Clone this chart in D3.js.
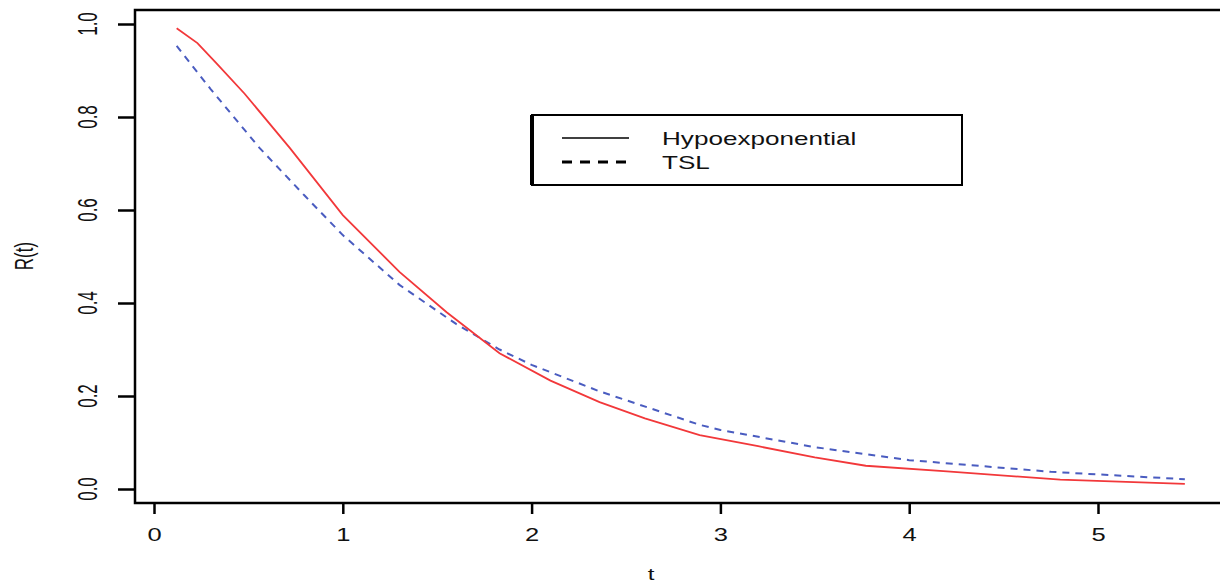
<!DOCTYPE html>
<html>
<head>
<meta charset="utf-8">
<script src="https://cdn.jsdelivr.net/npm/d3@7"></script>
<style>
  body { margin: 0; background: white; }
  text { font-family: "Liberation Sans", Arial, sans-serif; fill: #111; }
</style>
</head>
<body>
<div id="chart1"></div>
<script>
// data
const hypoT = [0.12, 0.23, 0.33, 0.48, 0.72, 1.0, 1.3, 1.55, 1.83, 2.1, 2.36, 2.6, 2.89, 3.2, 3.5, 3.77, 4.2, 4.8, 5.46];
const hypoR = [0.991, 0.959, 0.916, 0.85, 0.733, 0.589, 0.467, 0.38, 0.292, 0.233, 0.187, 0.152, 0.116, 0.092, 0.068, 0.05, 0.038, 0.02, 0.011];
const tslT = [0.12, 0.3, 0.56, 0.8, 1.0, 1.3, 1.6, 1.83, 2.0, 2.36, 2.89, 3.0, 3.5, 4.0, 4.75, 5.46];
const tslR = [0.953, 0.86, 0.733, 0.63, 0.546, 0.439, 0.355, 0.30, 0.267, 0.21, 0.138, 0.127, 0.09, 0.062, 0.037, 0.021];
const xTicks = [0, 1, 2, 3, 4, 5];
const yTicks = [0, 0.2, 0.4, 0.6, 0.8, 1.0];
const legendNames = ["Hypoexponential", "TSL"];

const width = 1220;
const height = 587;
const box = { left: 135, top: 10, right: 1224, bottom: 503 };
const sx = 1.42; // the picture is stretched sideways

const xScale = d3.scaleLinear().domain([0, 5]).range([154, 1098]);
const yScale = d3.scaleLinear().domain([0, 1]).range([489, 24]);

const svg = d3.select("#chart1")
    .append("svg")
    .attr("width", width)
    .attr("height", height);

// plot frame
svg.append("rect")
    .attr("x", box.left)
    .attr("y", box.top)
    .attr("width", box.right - box.left)
    .attr("height", box.bottom - box.top)
    .attr("fill", "none")
    .attr("stroke", "black")
    .attr("stroke-width", 2.5);

// x axis
const xAxis = svg.append("g")
    .attr("transform", `translate(0,${box.bottom})`)
    .call(d3.axisBottom(xScale).tickValues(xTicks).tickSize(11).tickFormat(d3.format("d")));
xAxis.select(".domain").remove();
xAxis.selectAll("line").attr("stroke", "black").attr("stroke-width", 2.5);
xAxis.selectAll("text")
    .attr("y", 0)
    .attr("dy", 0)
    .attr("font-size", "18px")
    .attr("transform", `translate(0,38) scale(${sx},1)`);

// y axis
const yAxis = svg.append("g")
    .attr("transform", `translate(${box.left},0)`)
    .call(d3.axisLeft(yScale).tickValues(yTicks).tickSize(17).tickFormat(d3.format(".1f")));
yAxis.select(".domain").remove();
yAxis.selectAll("line").attr("stroke", "black").attr("stroke-width", 2.5);
yAxis.selectAll("text").remove();

svg.append("g")
    .selectAll("text")
    .data(yTicks)
    .enter()
    .append("text")
    .attr("text-anchor", "middle")
    .attr("font-size", "17px")
    .attr("transform", d => `translate(97,${yScale(d)}) scale(1.6,1) rotate(-90)`)
    .text(d => d3.format(".1f")(d));

// axis titles
svg.append("text")
    .attr("text-anchor", "middle")
    .attr("font-size", "17px")
    .attr("transform", `translate(651,580) scale(${sx},1)`)
    .text("t");

svg.append("text")
    .attr("text-anchor", "middle")
    .attr("font-size", "17px")
    .attr("transform", `translate(33,256) scale(1.5,1) rotate(-90)`)
    .text("R(t)");

// curves
const line = d3.line()
    .x(d => xScale(d[0]))
    .y(d => yScale(d[1]))
    .curve(d3.curveLinear);

svg.append("path")
    .datum(d3.zip(tslT, tslR))
    .attr("fill", "none")
    .attr("stroke", "#4a5cc0")
    .attr("stroke-width", 2)
    .attr("stroke-dasharray", "7,6")
    .attr("d", line);

svg.append("path")
    .datum(d3.zip(hypoT, hypoR))
    .attr("fill", "none")
    .attr("stroke", "#f2383a")
    .attr("stroke-width", 1.8)
    .attr("d", line);

// legend
const legend = svg.append("g");
legend.append("rect")
    .attr("x", 532)
    .attr("y", 115)
    .attr("width", 430)
    .attr("height", 70)
    .attr("fill", "white")
    .attr("stroke", "black")
    .attr("stroke-width", 2);
legend.append("line")
    .attr("x1", 532).attr("x2", 532)
    .attr("y1", 115).attr("y2", 185)
    .attr("stroke", "black")
    .attr("stroke-width", 4);

legendNames.forEach((name, i) => {
    const y = 138 + i * 24;
    legend.append("line")
        .attr("x1", 562)
        .attr("x2", 629)
        .attr("y1", y)
        .attr("y2", y)
        .attr("stroke", "black")
        .attr("stroke-width", i === 0 ? 1.5 : 3)
        .attr("stroke-dasharray", i === 0 ? null : "10,8");
    legend.append("text")
        .attr("font-size", "18px")
        .attr("transform", `translate(662,${y + 7}) scale(1.45,1)`)
        .text(name);
});
</script>
</body>
</html>
